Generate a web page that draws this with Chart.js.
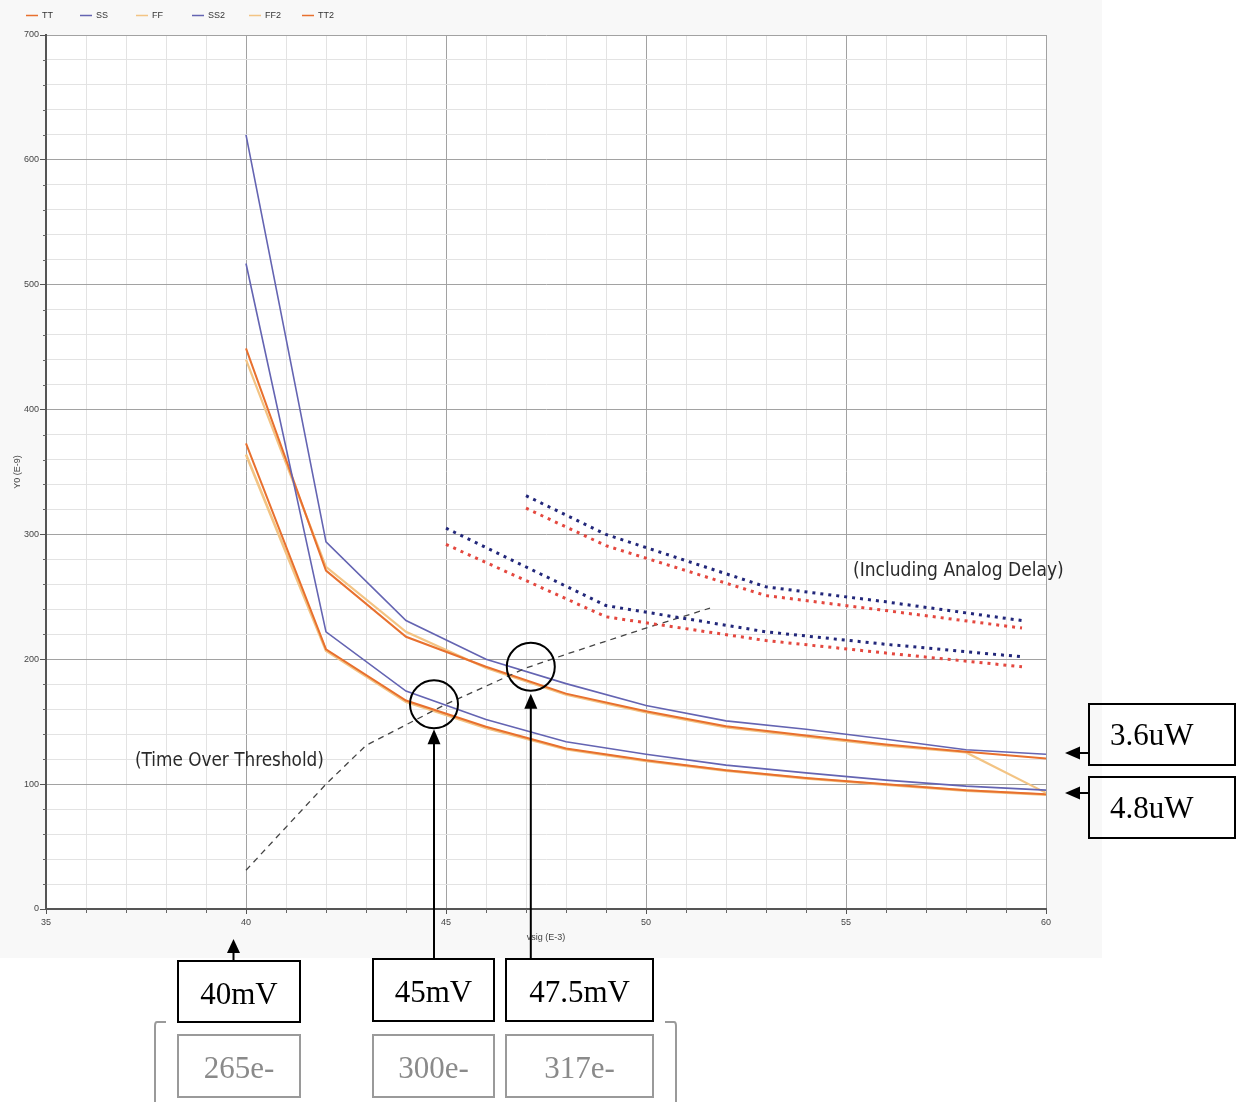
<!DOCTYPE html>
<html>
<head>
<meta charset="utf-8">
<script src="https://cdn.jsdelivr.net/npm/chart.js@4/dist/chart.umd.min.js"></script>
<style>
  html, body { margin: 0; padding: 0; background: #ffffff; }
  #wrap { width: 1242px; height: 1102px; }
</style>
</head>
<body>
<div id="wrap"><canvas id="c" width="1242" height="1102"></canvas></div>
<script>
// Signal amplitude (mV) at which each corner was simulated
const vsig = [40, 42, 44, 46, 48, 50, 52, 54, 56, 58, 60];

// Delay (ns) per process corner, 3.6uW bias
const tt  = [449, 271, 218, 194, 172.5, 158.4, 146.4, 139, 131.8, 125.9, 120.5];
const ss  = [620, 294, 231, 200, 180.5, 163, 150.7, 144, 136, 127.5, 124];
const ff  = [440, 274, 222, 193, 171.6, 157.5, 145.5, 138.1, 130.9, 125.4, 93];

// Delay (ns) per process corner, 4.8uW bias
const ss2 = [517, 222, 174.5, 151.7, 133.9, 124, 115.2, 109, 103.2, 98.4, 95.2];
const ff2 = [364, 207, 166, 145, 128, 118.5, 110.8, 104.5, 99.5, 94.8, 91.5];
const tt2 = [373, 208, 167, 146, 128.5, 119.2, 111.2, 105, 100, 95.2, 92];

// Delay including the analog front end
const adUpperX    = [47, 49, 53, 56, 59.4];
const adUpperSS   = [331, 300, 258, 246, 231];
const adUpperTT   = [321, 291, 251, 239, 225];
const adLowerX    = [45, 49, 53, 56, 59.4];
const adLowerSS   = [305, 243, 222, 212, 202];
const adLowerTT   = [292, 234, 215, 205, 194];

// Time-over-threshold curve
const totX = [40, 42, 43, 45, 47, 48, 50, 51.6];
const totY = [31, 100, 131, 164, 193, 204, 225, 241];

// Axis tick labels
const xTickLabels = [35, 40, 45, 50, 55, 60];
const yTickLabels = [0, 100, 200, 300, 400, 500, 600, 700];

const legendNames = ['TT', 'SS', 'FF', 'SS2', 'FF2', 'TT2'];

const C_TT = '#e8702e', C_SS = '#6464b2', C_FF = '#f3c484';
const C_NAVY = '#22277a', C_RED = '#e4483f';

const pts = (xs, ys) => xs.map((v, i) => ({ x: v, y: ys[i] }));

// lower "order" is painted on top
const solid = (label, ys, color, w, order) => ({
  label, data: pts(vsig, ys), borderColor: color, backgroundColor: color,
  borderWidth: w, pointRadius: 0, tension: 0, fill: false, order
});
const dotted = (label, xs, ys, color) => ({
  label, data: pts(xs, ys), borderColor: color, borderWidth: 3,
  borderDash: [3, 5], borderCapStyle: 'butt', pointRadius: 0, tension: 0, fill: false, order: 0
});

const datasets = [
  solid(legendNames[0], tt, C_TT, 2, 2),
  solid(legendNames[1], ss, C_SS, 1.6, 1),
  solid(legendNames[2], ff, C_FF, 2.2, 3),
  solid(legendNames[3], ss2, C_SS, 1.6, 1),
  solid(legendNames[4], ff2, C_FF, 2.6, 5),
  solid(legendNames[5], tt2, C_TT, 2, 4),
  dotted('adUpperSS', adUpperX, adUpperSS, C_NAVY),
  dotted('adUpperTT', adUpperX, adUpperTT, C_RED),
  dotted('adLowerSS', adLowerX, adLowerSS, C_NAVY),
  dotted('adLowerTT', adLowerX, adLowerTT, C_RED),
  { label: 'tot', data: pts(totX, totY), borderColor: '#444444', borderWidth: 1.3,
    borderDash: [6, 5], pointRadius: 0, tension: 0, fill: false, order: 0 }
];

function arrow(ctx, x1, y1, x2, y2, headLen, headW) {
  const a = Math.atan2(y2 - y1, x2 - x1);
  ctx.beginPath();
  ctx.moveTo(x1, y1);
  ctx.lineTo(x2 - Math.cos(a) * headLen * 0.8, y2 - Math.sin(a) * headLen * 0.8);
  ctx.stroke();
  ctx.beginPath();
  ctx.moveTo(x2, y2);
  ctx.lineTo(x2 - Math.cos(a) * headLen + Math.sin(a) * headW / 2, y2 - Math.sin(a) * headLen - Math.cos(a) * headW / 2);
  ctx.lineTo(x2 - Math.cos(a) * headLen - Math.sin(a) * headW / 2, y2 - Math.sin(a) * headLen + Math.cos(a) * headW / 2);
  ctx.closePath();
  ctx.fill();
}

function box(ctx, x, y, w, h, text, color, textColor, align) {
  ctx.strokeStyle = color;
  ctx.lineWidth = 2;
  ctx.strokeRect(x, y, w, h);
  ctx.fillStyle = textColor;
  ctx.font = '31px "Liberation Serif", "Times New Roman", serif';
  ctx.textBaseline = 'alphabetic';
  if (align === 'left') {
    ctx.textAlign = 'left';
    ctx.fillText(text, x + 21, y + 41);
  } else {
    ctx.textAlign = 'center';
    ctx.fillText(text, x + w / 2, y + 43);
  }
}

function fitText(ctx, text, family, width) {
  ctx.font = '20px ' + family;
  const w = ctx.measureText(text).width;
  const size = 20 * width / w;
  ctx.font = size.toFixed(2) + 'px ' + family;
}

const backdrop = {
  id: 'backdrop',
  beforeDraw(chart) {
    const { ctx, chartArea: a } = chart;
    ctx.save();
    ctx.fillStyle = '#ffffff';
    ctx.fillRect(0, 0, chart.width, chart.height);
    ctx.fillStyle = '#f8f8f8';
    ctx.fillRect(0, 0, 1102, 958);
    ctx.fillStyle = '#ffffff';
    ctx.fillRect(a.left, a.top, a.right - a.left, a.bottom - a.top);
    ctx.restore();
  }
};

const notes = {
  id: 'notes',
  afterDraw(chart) {
    const { ctx, scales: { x, y }, chartArea: a } = chart;
    ctx.save();

    // minor tick marks
    ctx.strokeStyle = '#666';
    ctx.lineWidth = 1;
    y.ticks.forEach(t => {
      if (t.value % 100 !== 0) {
        const py = Math.round(y.getPixelForValue(t.value)) + 0.5;
        ctx.beginPath(); ctx.moveTo(a.left - 3, py); ctx.lineTo(a.left + 1, py); ctx.stroke();
      }
    });
    x.ticks.forEach(t => {
      if (t.value % 5 !== 0) {
        const px = Math.round(x.getPixelForValue(t.value)) + 0.5;
        ctx.beginPath(); ctx.moveTo(px, a.bottom); ctx.lineTo(px, a.bottom + 4); ctx.stroke();
      }
    });

    // legend
    ctx.font = '9px "Liberation Sans", Arial, sans-serif';
    ctx.textBaseline = 'middle';
    ctx.textAlign = 'left';
    const legX = [26, 80, 136, 192, 249, 302];
    legendNames.forEach((n, i) => {
      const ds = chart.data.datasets[i];
      ctx.strokeStyle = ds.borderColor;
      ctx.lineWidth = 1.5;
      ctx.beginPath(); ctx.moveTo(legX[i], 15.5); ctx.lineTo(legX[i] + 12, 15.5); ctx.stroke();
      ctx.fillStyle = '#333';
      ctx.fillText(n, legX[i] + 16, 16);
    });

    // curve captions
    ctx.fillStyle = '#2a2a2a';
    ctx.textBaseline = 'middle';
    ctx.textAlign = 'left';
    const fam = '"Liberation Sans Narrow", "DejaVu Sans Condensed", sans-serif';
    fitText(ctx, '(Time Over Threshold)', fam, 189);
    ctx.fillText('(Time Over Threshold)', 135, 761);
    fitText(ctx, '(Including Analog Delay)', fam, 211);
    ctx.fillText('(Including Analog Delay)', 853, 571);

    // highlighted crossings
    ctx.strokeStyle = '#000';
    ctx.fillStyle = '#000';
    ctx.lineWidth = 2;
    const c1x = x.getPixelForValue(44.7), c1y = y.getPixelForValue(164);
    const c2x = x.getPixelForValue(47.12), c2y = y.getPixelForValue(194);
    ctx.beginPath(); ctx.arc(c1x, c1y, 24, 0, Math.PI * 2); ctx.stroke();
    ctx.beginPath(); ctx.arc(c2x, c2y, 24, 0, Math.PI * 2); ctx.stroke();

    // arrows from the value boxes
    arrow(ctx, c1x, 959, c1x, c1y + 25, 15, 13);
    arrow(ctx, c2x, 959, c2x, c2y + 27, 15, 13);
    arrow(ctx, 233.5, 961, 233.5, 939, 14, 13);
    arrow(ctx, 1089, 753, 1065, 753, 15, 13);
    arrow(ctx, 1089, 793, 1065, 793, 15, 13);

    // voltage boxes
    box(ctx, 178, 961, 122, 61, '40mV', '#000', '#000');
    box(ctx, 373, 959, 121, 62, '45mV', '#000', '#000');
    box(ctx, 506, 959, 147, 62, '47.5mV', '#000', '#000');

    // equivalent charge boxes
    box(ctx, 178, 1035, 122, 62, '265e-', '#9a9a9a', '#8a8a8a');
    box(ctx, 373, 1035, 121, 62, '300e-', '#9a9a9a', '#8a8a8a');
    box(ctx, 506, 1035, 147, 62, '317e-', '#9a9a9a', '#8a8a8a');

    // bracket around the charge boxes
    ctx.strokeStyle = '#9a9a9a';
    ctx.lineWidth = 2;
    ctx.beginPath();
    ctx.moveTo(166, 1022); ctx.lineTo(157, 1022); ctx.quadraticCurveTo(155, 1022, 155, 1026); ctx.lineTo(155, 1102);
    ctx.stroke();
    ctx.beginPath();
    ctx.moveTo(665, 1022); ctx.lineTo(674, 1022); ctx.quadraticCurveTo(676, 1022, 676, 1026); ctx.lineTo(676, 1102);
    ctx.stroke();

    // power boxes
    box(ctx, 1089, 704, 146, 61, '3.6uW', '#000', '#000', 'left');
    box(ctx, 1089, 777, 146, 61, '4.8uW', '#000', '#000', 'left');

    ctx.restore();
  }
};

new Chart(document.getElementById('c'), {
  type: 'line',
  data: { datasets },
  options: {
    responsive: false,
    devicePixelRatio: 1,
    animation: false,
    events: [],
    layout: { padding: { left: 0, top: 35, right: 196, bottom: 155 } },
    plugins: { legend: { display: false }, tooltip: { enabled: false } },
    scales: {
      x: {
        type: 'linear', min: 35, max: 60,
        afterFit: s => { s.height = 38; },
        ticks: {
          stepSize: 1, autoSkip: false, maxRotation: 0, padding: 3,
          color: '#444', font: { size: 9, family: '"Liberation Sans", Arial, sans-serif' },
          callback: v => (xTickLabels.includes(v) ? String(v) : '')
        },
        grid: {
          color: c => (c.tick && c.tick.value % 5 === 0 ? '#a2a2a2' : '#e3e3e3'),
          tickColor: c => (c.tick && c.tick.value % 5 === 0 ? '#555' : 'rgba(0,0,0,0)'),
          tickLength: 5
        },
        border: { color: '#555', width: 2 },
        title: { display: true, text: 'vsig (E-3)', color: '#444',
                 font: { size: 9, family: '"Liberation Sans", Arial, sans-serif' }, padding: 4 }
      },
      y: {
        type: 'linear', min: 0, max: 700,
        afterFit: s => { s.width = 46; },
        ticks: {
          stepSize: 20, autoSkip: false, padding: 1,
          color: '#444', font: { size: 9, family: '"Liberation Sans", Arial, sans-serif' },
          callback: v => (yTickLabels.includes(v) ? String(v) : '')
        },
        grid: {
          color: c => (c.tick && c.tick.value % 100 === 0 ? '#a2a2a2' : '#e3e3e3'),
          tickColor: c => (c.tick && c.tick.value % 100 === 0 ? '#555' : 'rgba(0,0,0,0)'),
          tickLength: 6
        },
        border: { color: '#555', width: 2 },
        title: { display: true, text: 'Y0 (E-9)', color: '#444',
                 font: { size: 9, family: '"Liberation Sans", Arial, sans-serif' },
                 padding: { top: 12, bottom: 0 } }
      }
    }
  },
  plugins: [backdrop, notes]
});
</script>
</body>
</html>
